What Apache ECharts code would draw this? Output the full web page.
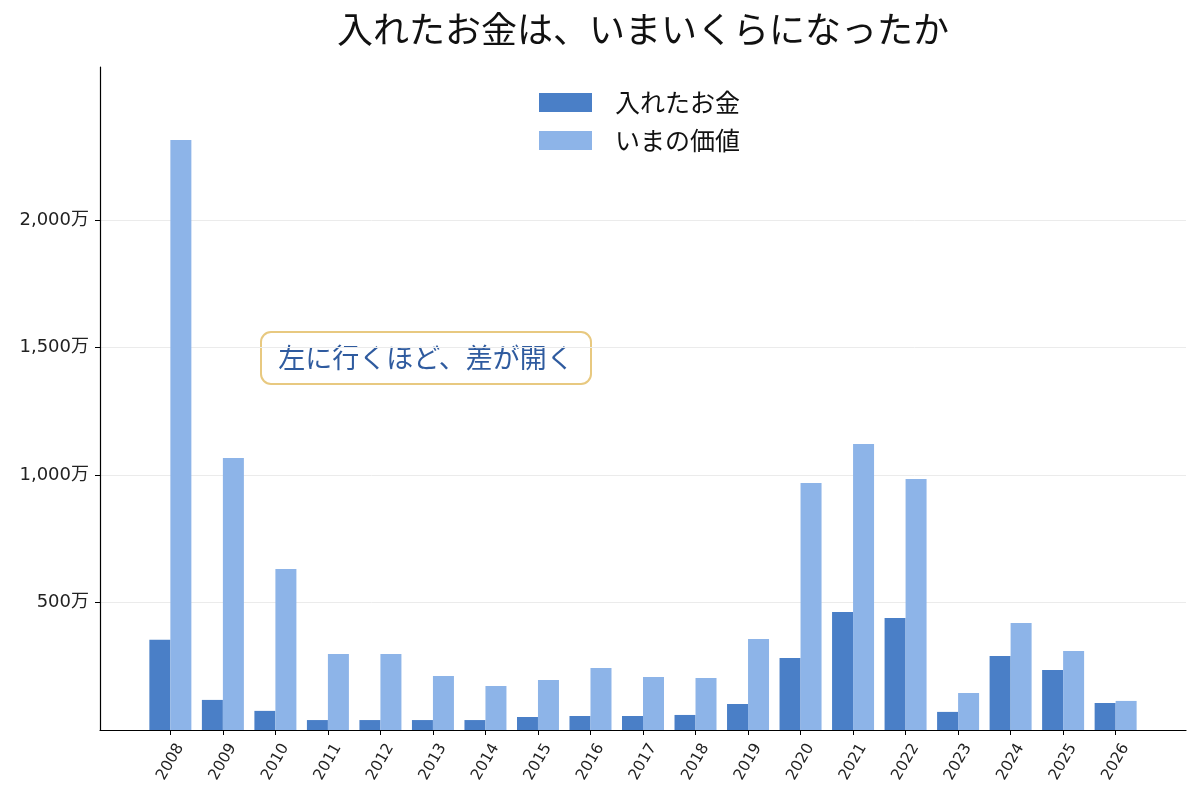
<!DOCTYPE html>
<html lang="ja">
<head>
<meta charset="UTF-8">
<title>入れたお金は、いまいくらになったか</title>
<script src="https://cdn.jsdelivr.net/npm/echarts@6/dist/echarts.min.js"></script>
</head>
<body style="margin:0;background:#fff;">
<div id="main" style="width:1200px;height:800px;"></div>
<script type="text/javascript">
    // データ（単位：万円）
    var years = ['2008', '2009', '2010', '2011', '2012', '2013', '2014', '2015', '2016', '2017',
        '2018', '2019', '2020', '2021', '2022', '2023', '2024', '2025', '2026'];
    var invested = [354, 118, 75, 39, 39, 39, 39, 51, 55, 55, 59, 102, 282, 463, 439, 71, 290, 235, 106];
    var current = [2314, 1067, 631, 298, 298, 212, 173, 196, 243, 208, 204, 357, 969, 1122, 984, 145, 420, 310, 114];
    var yTicks = [500, 1000, 1500, 2000];

    var FONT = '"Noto Sans CJK JP", "Noto Sans", sans-serif';
    var NUM_FONT = '"DejaVu Sans", "Noto Sans CJK JP", sans-serif';

    function toPairs(arr) {
        var out = [];
        for (var i = 0; i < arr.length; i++) {
            out.push([i, arr[i]]);
        }
        return out;
    }

    var xTicks = [];
    for (var i = 0; i < years.length; i++) {
        xTicks.push(i);
    }

    var myChart = echarts.init(document.getElementById('main'));

    var option = {
        backgroundColor: '#ffffff',
        animation: false,
        textStyle: {fontFamily: FONT},
        title: {
            text: '入れたお金は、いまいくらになったか',
            left: 638,
            textAlign: 'center',
            top: 6,
            textStyle: {fontSize: 36, fontWeight: 'normal', color: '#111', fontFamily: FONT}
        },
        legend: {
            orient: 'vertical',
            left: 539,
            top: 90,
            padding: 0,
            itemWidth: 53,
            itemHeight: 19,
            itemGap: 13,
            icon: 'rect',
            textStyle: {fontSize: 25, lineHeight: 19, color: '#111', fontFamily: FONT, padding: [0, 0, 0, 18]},
            data: ['入れたお金', 'いまの価値']
        },
        grid: {left: 100, right: 14, top: 67, bottom: 70},
        xAxis: {
            type: 'value',
            min: -1.34,
            max: 19.34,
            axisLine: {show: true, onZero: false, lineStyle: {color: '#000', width: 1.2}},
            axisTick: {show: true, customValues: xTicks, length: 5, lineStyle: {color: '#000'}},
            splitLine: {show: false},
            axisLabel: {
                customValues: xTicks,
                rotate: 60,
                align: 'center',
                verticalAlign: 'middle',
                fontSize: 15.5,
                color: '#222',
                fontFamily: NUM_FONT,
                margin: 32,
                formatter: function (v) {
                    return years[Math.round(v)];
                }
            }
        },
        yAxis: {
            type: 'value',
            min: 0,
            max: 2600,
            axisLine: {show: true, onZero: false, lineStyle: {color: '#000', width: 1.2}},
            axisTick: {show: true, customValues: yTicks, length: 5, lineStyle: {color: '#000'}},
            splitLine: {show: true, lineStyle: {color: '#ebebeb', width: 1}},
            axisLabel: {
                customValues: yTicks,
                fontSize: 18,
                color: '#222',
                fontFamily: NUM_FONT,
                margin: 11,
                padding: [6, 0, 0, 0],
                formatter: function (v) {
                    return v.toLocaleString('en-US') + '万';
                }
            }
        },
        graphic: [{
            type: 'group',
            left: 260,
            top: 331,
            children: [{
                type: 'rect',
                shape: {x: 0, y: 0, width: 330, height: 52, r: 10},
                style: {fill: '#fff', stroke: '#e8c980', lineWidth: 2}
            }, {
                type: 'text',
                x: 165,
                y: 26,
                style: {
                    text: '左に行くほど、差が開く',
                    fill: '#2f5b9f',
                    font: '27px "Noto Sans CJK JP", sans-serif',
                    align: 'center',
                    verticalAlign: 'middle'
                }
            }]
        }],
        series: [{
            name: '入れたお金',
            type: 'bar',
            barWidth: 21,
            barGap: '0%',
            itemStyle: {color: '#4a7fc7'},
            data: toPairs(invested)
        }, {
            name: 'いまの価値',
            type: 'bar',
            barWidth: 21,
            barGap: '0%',
            itemStyle: {color: '#8db4e8'},
            data: toPairs(current)
        }]
    };

    myChart.setOption(option);
</script>
</body>
</html>
